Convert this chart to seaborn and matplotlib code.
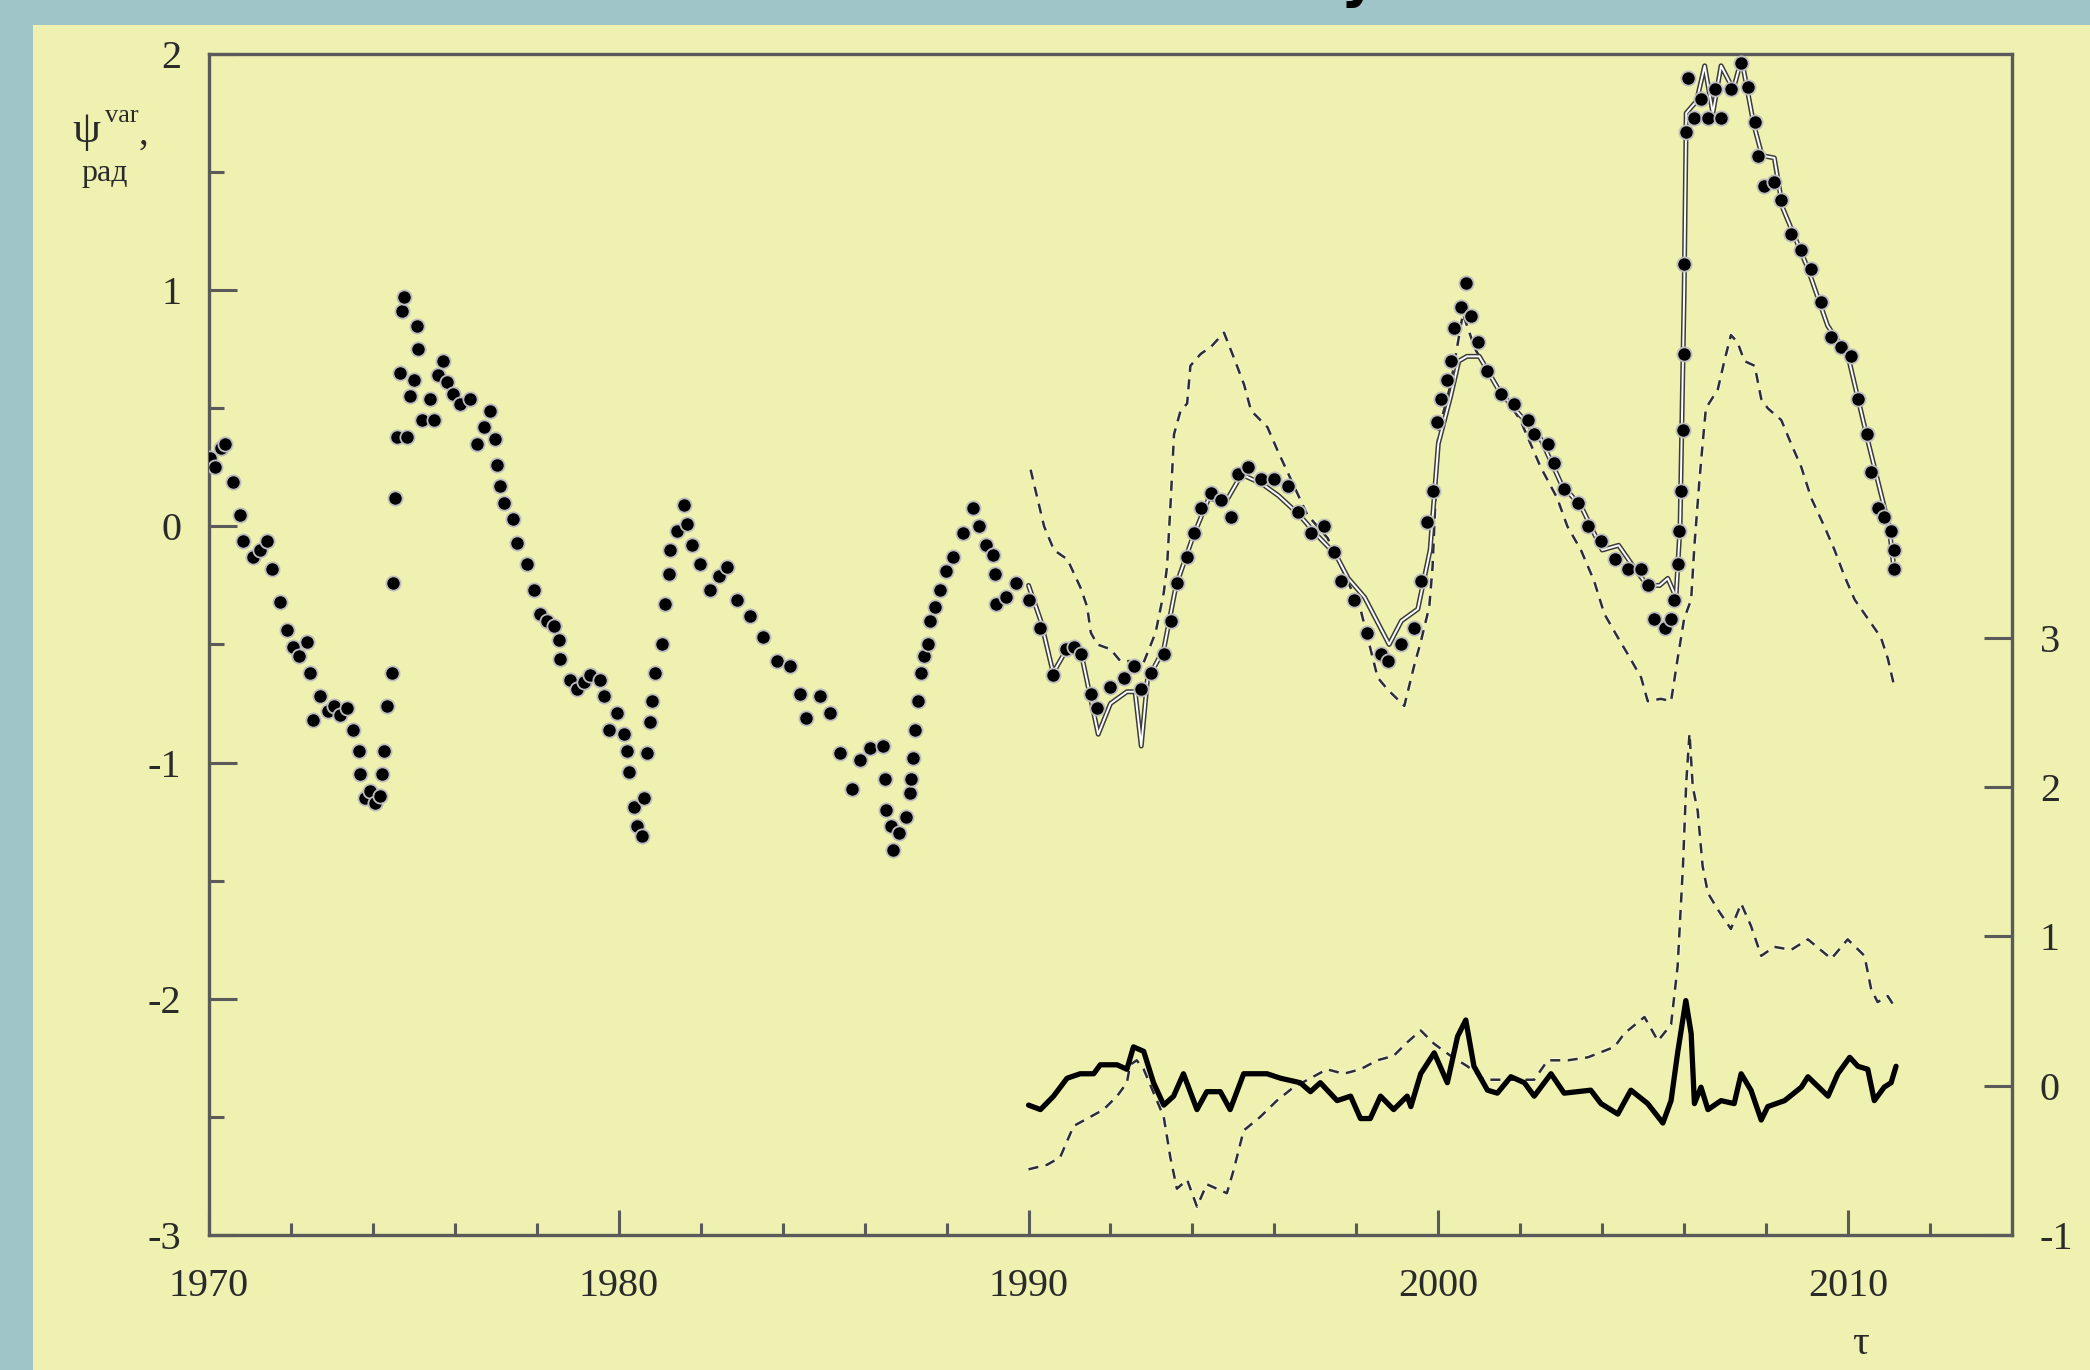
import numpy as np
import pandas as pd
import matplotlib
matplotlib.use("Agg")
import matplotlib.pyplot as plt
import matplotlib.patheffects as pe
from matplotlib.patches import Rectangle
import seaborn as sns

# --- data ----------------------------------------------------------------
# measured phase (dots), left axis
dot_years = [
    1970.02, 1970.15, 1970.3, 1970.39, 1970.59, 1970.76, 1970.84, 1971.08, 1971.25, 1971.41,
    1971.53, 1971.73, 1971.9, 1972.06, 1972.2, 1972.38, 1972.47, 1972.55, 1972.71, 1972.9,
    1973.04, 1973.2, 1973.36, 1973.52, 1973.65, 1973.69, 1973.8, 1973.93, 1974.05, 1974.18,
    1974.22, 1974.26, 1974.34, 1974.46, 1974.49, 1974.54, 1974.58, 1974.66, 1974.7, 1974.75,
    1974.83, 1974.9, 1975.0, 1975.07, 1975.11, 1975.2, 1975.39, 1975.48, 1975.6, 1975.72,
    1975.8, 1975.95, 1976.13, 1976.37, 1976.54, 1976.7, 1976.86, 1976.98, 1977.02, 1977.1,
    1977.19, 1977.43, 1977.51, 1977.76, 1977.92, 1978.08, 1978.25, 1978.41, 1978.53, 1978.57,
    1978.81, 1978.98, 1979.15, 1979.3, 1979.55, 1979.63, 1979.75, 1979.95, 1980.12, 1980.2,
    1980.24, 1980.37, 1980.45, 1980.57, 1980.61, 1980.69, 1980.77, 1980.81, 1980.89, 1981.05,
    1981.14, 1981.22, 1981.26, 1981.42, 1981.58, 1981.67, 1981.79, 1981.99, 1982.23, 1982.45,
    1982.64, 1982.88, 1983.2, 1983.53, 1983.85, 1984.17, 1984.42, 1984.58, 1984.91, 1985.15,
    1985.39, 1985.68, 1985.88, 1986.13, 1986.45, 1986.49, 1986.53, 1986.65, 1986.69, 1986.85,
    1987.02, 1987.1, 1987.14, 1987.18, 1987.22, 1987.3, 1987.38, 1987.46, 1987.54, 1987.59,
    1987.71, 1987.83, 1987.99, 1988.15, 1988.4, 1988.64, 1988.8, 1988.97, 1989.13, 1989.17,
    1989.21, 1989.46, 1989.7, 1990.02, 1990.27, 1990.6, 1990.92, 1991.1, 1991.27, 1991.52,
    1991.68, 1992.0, 1992.33, 1992.57, 1992.74, 1992.98, 1993.3, 1993.47, 1993.63, 1993.87,
    1994.04, 1994.2, 1994.45, 1994.69, 1994.94, 1995.1, 1995.35, 1995.67, 1996.0, 1996.32,
    1996.57, 1996.89, 1997.22, 1997.46, 1997.62, 1997.95, 1998.27, 1998.6, 1998.76, 1999.09,
    1999.41, 1999.57, 1999.73, 1999.86, 1999.98, 2000.06, 2000.22, 2000.3, 2000.38, 2000.55,
    2000.67, 2000.79, 2000.96, 2001.2, 2001.53, 2001.85, 2002.18, 2002.34, 2002.67, 2002.83,
    2003.07, 2003.4, 2003.65, 2003.97, 2004.3, 2004.62, 2004.95, 2005.11, 2005.27, 2005.52,
    2005.68, 2005.76, 2005.84, 2005.88, 2005.93, 2005.97, 2005.99, 2006.0, 2006.05, 2006.09,
    2006.25, 2006.41, 2006.58, 2006.74, 2006.9, 2007.15, 2007.39, 2007.55, 2007.72, 2007.8,
    2007.96, 2008.2, 2008.37, 2008.61, 2008.86, 2009.1, 2009.34, 2009.59, 2009.83, 2010.07,
    2010.24, 2010.47, 2010.56, 2010.72, 2010.88, 2011.05, 2011.13, 2011.13,
]
dot_psi = [
    0.29, 0.25, 0.33, 0.35, 0.19, 0.05, -0.06, -0.13, -0.10, -0.06,
    -0.18, -0.32, -0.44, -0.51, -0.55, -0.49, -0.62, -0.82, -0.72, -0.78,
    -0.76, -0.80, -0.77, -0.86, -0.95, -1.05, -1.15, -1.12, -1.17, -1.14,
    -1.05, -0.95, -0.76, -0.62, -0.24, 0.12, 0.38, 0.65, 0.91, 0.97,
    0.38, 0.55, 0.62, 0.85, 0.75, 0.45, 0.54, 0.45, 0.64, 0.70,
    0.61, 0.56, 0.52, 0.54, 0.35, 0.42, 0.49, 0.37, 0.26, 0.17,
    0.10, 0.03, -0.07, -0.16, -0.27, -0.37, -0.40, -0.42, -0.48, -0.56,
    -0.65, -0.69, -0.66, -0.63, -0.65, -0.72, -0.86, -0.79, -0.88, -0.95,
    -1.04, -1.19, -1.27, -1.31, -1.15, -0.96, -0.83, -0.74, -0.62, -0.50,
    -0.33, -0.20, -0.10, -0.02, 0.09, 0.01, -0.08, -0.16, -0.27, -0.21,
    -0.17, -0.31, -0.38, -0.47, -0.57, -0.59, -0.71, -0.81, -0.72, -0.79,
    -0.96, -1.11, -0.99, -0.94, -0.93, -1.07, -1.20, -1.27, -1.37, -1.30,
    -1.23, -1.13, -1.07, -0.98, -0.86, -0.74, -0.62, -0.55, -0.50, -0.40,
    -0.34, -0.27, -0.19, -0.13, -0.03, 0.08, 0.00, -0.08, -0.12, -0.20,
    -0.33, -0.30, -0.24, -0.31, -0.43, -0.63, -0.52, -0.51, -0.54, -0.71,
    -0.77, -0.68, -0.64, -0.59, -0.69, -0.62, -0.54, -0.40, -0.24, -0.13,
    -0.03, 0.08, 0.14, 0.11, 0.04, 0.22, 0.25, 0.20, 0.20, 0.17,
    0.06, -0.03, 0.00, -0.11, -0.23, -0.31, -0.45, -0.54, -0.57, -0.50,
    -0.43, -0.23, 0.02, 0.15, 0.44, 0.54, 0.62, 0.70, 0.84, 0.93,
    1.03, 0.89, 0.78, 0.66, 0.56, 0.52, 0.45, 0.39, 0.35, 0.27,
    0.16, 0.10, 0.00, -0.06, -0.14, -0.18, -0.18, -0.25, -0.39, -0.43,
    -0.39, -0.31, -0.16, -0.02, 0.15, 0.41, 0.73, 1.11, 1.67, 1.90,
    1.73, 1.81, 1.73, 1.85, 1.73, 1.85, 1.96, 1.86, 1.71, 1.57,
    1.44, 1.46, 1.38, 1.24, 1.17, 1.09, 0.95, 0.80, 0.76, 0.72,
    0.54, 0.39, 0.23, 0.08, 0.04, -0.02, -0.10, -0.18,
]

# model curve (thin solid), left axis
thin_years = [
    1990.0, 1990.3, 1990.6, 1991.0, 1991.3, 1991.7, 1992.0, 1992.4, 1992.6, 1992.75,
    1992.9, 1993.3, 1993.6, 1994.0, 1994.4, 1994.8, 1995.2, 1995.7, 1996.1, 1996.6,
    1997.0, 1997.5, 1997.8, 1998.2, 1998.5, 1998.8, 1999.1, 1999.5, 1999.8, 2000.0,
    2000.3, 2000.5, 2000.7, 2001.0, 2001.5, 2002.0, 2002.5, 2003.0, 2003.5, 2004.0,
    2004.4, 2004.8, 2005.1, 2005.4, 2005.6, 2005.8, 2005.9, 2006.0, 2006.05, 2006.3,
    2006.5, 2006.7, 2006.9, 2007.2, 2007.4, 2007.7, 2007.9, 2008.2, 2008.4, 2009.0,
    2009.5, 2010.0, 2010.5, 2011.0, 2011.1,
]
thin_psi = [
    -0.25, -0.40, -0.62, -0.50, -0.55, -0.88, -0.75, -0.70, -0.70, -0.93,
    -0.65, -0.52, -0.25, -0.05, 0.12, 0.10, 0.22, 0.18, 0.13, 0.05,
    -0.03, -0.12, -0.22, -0.30, -0.40, -0.50, -0.40, -0.35, -0.10, 0.35,
    0.55, 0.70, 0.72, 0.72, 0.57, 0.47, 0.37, 0.18, 0.08, -0.10,
    -0.08, -0.18, -0.25, -0.25, -0.22, -0.30, 0.00, 1.00, 1.75, 1.80,
    1.95, 1.75, 1.95, 1.85, 1.98, 1.70, 1.57, 1.56, 1.35, 1.10,
    0.85, 0.72, 0.35, 0.00, -0.15,
]

# forecast (dashed), left axis
fc_years = [
    1990.05, 1990.38, 1990.62, 1990.95, 1991.27, 1991.43, 1991.52, 1991.68, 1992.0, 1992.24,
    1992.49, 1992.8, 1993.1, 1993.3, 1993.38, 1993.47, 1993.55, 1993.71, 1993.87, 1993.95,
    1994.2, 1994.45, 1994.77, 1995.02, 1995.26, 1995.43, 1995.83, 1996.08, 1996.32, 1996.8,
    1997.3, 1997.7, 1998.1, 1998.52, 1998.76, 1999.17, 1999.41, 1999.57, 1999.78, 1999.86,
    2000.0, 2000.3, 2000.6, 2000.9, 2001.5, 2002.0, 2002.5, 2002.9, 2003.15, 2003.48,
    2003.8, 2004.05, 2004.38, 2004.62, 2004.95, 2005.11, 2005.43, 2005.68, 2005.84, 2006.0,
    2006.17, 2006.25, 2006.37, 2006.45, 2006.53, 2006.82, 2006.98, 2007.14, 2007.3, 2007.47,
    2007.72, 2007.88, 2008.04, 2008.37, 2008.61, 2008.86, 2009.1, 2009.42, 2009.67, 2009.91,
    2010.16, 2010.48, 2010.8, 2010.97, 2011.13,
]
fc_psi = [
    0.24, 0.00, -0.10, -0.14, -0.26, -0.34, -0.45, -0.50, -0.52, -0.57,
    -0.57, -0.58, -0.45, -0.28, -0.17, 0.11, 0.39, 0.49, 0.52, 0.68,
    0.73, 0.76, 0.82, 0.71, 0.60, 0.49, 0.42, 0.32, 0.23, 0.05,
    -0.05, -0.20, -0.35, -0.64, -0.69, -0.76, -0.59, -0.49, -0.34, -0.17,
    0.40, 0.60, 0.90, 0.75, 0.58, 0.45, 0.25, 0.12, 0.00, -0.10,
    -0.23, -0.37, -0.47, -0.54, -0.64, -0.74, -0.73, -0.74, -0.56, -0.39,
    -0.31, -0.08, 0.19, 0.35, 0.50, 0.58, 0.70, 0.81, 0.78, 0.70,
    0.68, 0.54, 0.50, 0.45, 0.35, 0.25, 0.12, 0.00, -0.10, -0.21,
    -0.31, -0.39, -0.47, -0.56, -0.68,
]

# residuals, right axis
res_years = [
    1990.0, 1990.29, 1990.61, 1990.94, 1991.26, 1991.59, 1991.75, 1992.16, 1992.4, 1992.56,
    1992.81, 1993.05, 1993.3, 1993.54, 1993.78, 1994.11, 1994.35, 1994.68, 1994.92, 1995.25,
    1995.82, 1996.15, 1996.63, 1996.88, 1997.12, 1997.53, 1997.86, 1998.1, 1998.34, 1998.59,
    1998.91, 1999.24, 1999.33, 1999.57, 1999.9, 2000.22, 2000.47, 2000.67, 2000.87, 2001.2,
    2001.44, 2001.77, 2002.1, 2002.34, 2002.75, 2003.07, 2003.72, 2003.97, 2004.38, 2004.7,
    2005.11, 2005.48, 2005.68, 2005.84, 2006.04, 2006.17, 2006.25, 2006.41, 2006.58, 2006.9,
    2007.22, 2007.39, 2007.63, 2007.88, 2008.04, 2008.45, 2008.86, 2009.02, 2009.51, 2009.75,
    2010.04, 2010.24, 2010.48, 2010.64, 2010.88, 2011.05, 2011.17,
]
res_val = [
    -0.13, -0.16, -0.07, 0.05, 0.08, 0.08, 0.14, 0.14, 0.11, 0.26,
    0.23, 0.02, -0.13, -0.07, 0.08, -0.16, -0.04, -0.04, -0.16, 0.08,
    0.08, 0.05, 0.02, -0.04, 0.02, -0.10, -0.07, -0.22, -0.22, -0.07,
    -0.16, -0.07, -0.14, 0.08, 0.22, 0.02, 0.33, 0.44, 0.13, -0.03,
    -0.05, 0.06, 0.02, -0.07, 0.08, -0.05, -0.03, -0.12, -0.19, -0.03,
    -0.12, -0.25, -0.10, 0.22, 0.57, 0.35, -0.12, -0.01, -0.16, -0.10,
    -0.12, 0.08, -0.03, -0.23, -0.14, -0.10, -0.01, 0.06, -0.07, 0.08,
    0.19, 0.13, 0.11, -0.10, -0.01, 0.02, 0.13,
]

# forecast error (dashed), right axis
err_years = [
    1990.0, 1990.45, 1990.77, 1991.1, 1991.5, 1991.83, 1992.16, 1992.4, 1992.48, 1992.64,
    1992.81, 1993.3, 1993.46, 1993.62, 1993.87, 1994.11, 1994.35, 1994.84, 1995.0, 1995.25,
    1995.65, 1996.06, 1996.47, 1996.88, 1997.28, 1997.69, 1998.1, 1998.51, 1998.91, 1999.24,
    1999.57, 1999.9, 2000.3, 2000.71, 2001.12, 2001.53, 2002.34, 2002.67, 2003.16, 2003.65,
    2004.3, 2004.54, 2005.03, 2005.36, 2005.68, 2005.84, 2005.97, 2006.05, 2006.13, 2006.21,
    2006.33, 2006.45, 2006.58, 2006.82, 2007.14, 2007.39, 2007.63, 2007.88, 2008.2, 2008.61,
    2009.02, 2009.59, 2009.99, 2010.4, 2010.56, 2010.72, 2010.97, 2011.13,
]
err_val = [
    -0.56, -0.53, -0.48, -0.27, -0.21, -0.16, -0.07, 0.02, 0.14, 0.17,
    0.11, -0.21, -0.48, -0.69, -0.63, -0.81, -0.66, -0.72, -0.57, -0.30,
    -0.21, -0.10, -0.01, 0.05, 0.11, 0.08, 0.11, 0.17, 0.20, 0.29,
    0.37, 0.28, 0.20, 0.13, 0.04, 0.04, 0.04, 0.17, 0.17, 0.19,
    0.26, 0.35, 0.46, 0.30, 0.41, 0.80, 1.47, 2.03, 2.36, 2.00,
    1.84, 1.47, 1.29, 1.18, 1.05, 1.22, 1.07, 0.87, 0.93, 0.91,
    0.98, 0.85, 0.98, 0.87, 0.65, 0.56, 0.60, 0.53,
]

left_ticks = [-3, -2, -1, 0, 1, 2]
right_ticks = [-1, 0, 1, 2, 3]
year_ticks = [1970, 1980, 1990, 2000, 2010]

# --- style ---------------------------------------------------------------
TEAL = '#a0c5c9'
YELLOW = '#eff1b1'
AXC = '#5a5a5a'
TXT = '#2a2a2a'

sns.set_style('ticks')
plt.rcParams['font.family'] = ['Liberation Serif', 'DejaVu Serif']
plt.rcParams['axes.unicode_minus'] = False

W, H = 2090, 1370
fig = plt.figure(figsize=(W / 100, H / 100), dpi=100, facecolor=TEAL)
fig.patches.append(Rectangle((33 / W, 0), 1, 1 - 25 / H, transform=fig.transFigure,
                             facecolor=YELLOW, edgecolor='none', zorder=-10))

ax = fig.add_axes([209 / W, 1 - 1235 / H, (2012 - 209) / W, (1235 - 54) / H])
ax.set_facecolor(YELLOW)
ax2 = ax.twinx()

# thin model curve: white core with a dark rim, like the scan
rim = [pe.Stroke(linewidth=3.6, foreground='#3c3c3c'), pe.Normal()]
dash_halo = [pe.Stroke(linewidth=3.2, foreground='#f7f7ee'), pe.Normal()]

dots = pd.DataFrame({'year': dot_years, 'psi': dot_psi})
thin = pd.DataFrame({'year': thin_years, 'psi': thin_psi})
fc = pd.DataFrame({'year': fc_years, 'psi': fc_psi})
res = pd.DataFrame({'year': res_years, 'val': res_val})
err = pd.DataFrame({'year': err_years, 'val': err_val})

sns.lineplot(data=fc, x='year', y='psi', ax=ax, sort=False, estimator=None,
             color='#2e2e2e', linewidth=1.8, linestyle=(0, (4, 3)),
             path_effects=dash_halo, zorder=2)
sns.lineplot(data=thin, x='year', y='psi', ax=ax, sort=False, estimator=None,
             color='white', linewidth=1.4, path_effects=rim, zorder=3)
sns.scatterplot(data=dots, x='year', y='psi', ax=ax, s=105, color='black',
                edgecolor='#bdbdbd', linewidth=1.3, zorder=4)

sns.lineplot(data=err, x='year', y='val', ax=ax2, sort=False, estimator=None,
             color='#2e2e2e', linewidth=1.8, linestyle=(0, (4, 3)),
             path_effects=dash_halo, zorder=2)
sns.lineplot(data=res, x='year', y='val', ax=ax2, sort=False, estimator=None,
             color='black', linewidth=3.8, zorder=3)

# --- axes ----------------------------------------------------------------
ax.set_xlim(1970, 2014)
ax.set_ylim(-3, 2)
ax2.set_ylim(-1, 6.91)

ax.set_xticks(year_ticks)
ax.set_xticks(np.arange(1972, 2014, 2), minor=True)
ax.set_xticklabels([str(y) for y in year_ticks])
ax.set_yticks(left_ticks)
ax.set_yticks(np.arange(-2.5, 2, 1.0), minor=True)
ax.set_yticklabels([str(t) for t in left_ticks])
ax2.set_yticks(right_ticks)
ax2.set_yticklabels([str(t) for t in right_ticks])
ax2.set_yticks([], minor=True)

ax.set_xlabel('')
ax.set_ylabel('')
ax2.set_ylabel('')

ax.tick_params(axis='x', which='major', direction='in', length=18, width=2.2,
               color=AXC, labelsize=29, labelcolor=TXT, pad=24, top=False)
ax.tick_params(axis='x', which='minor', direction='in', length=9, width=2.2,
               color=AXC, top=False)
ax.tick_params(axis='y', which='major', direction='in', length=20, width=2.2,
               color=AXC, labelsize=29, labelcolor=TXT, pad=20, right=False)
ax.tick_params(axis='y', which='minor', direction='in', length=11, width=2.2,
               color=AXC, right=False)
ax2.tick_params(axis='y', which='major', direction='in', length=20, width=2.2,
                color=AXC, labelsize=29, labelcolor=TXT, pad=20)

for s in ['left', 'bottom', 'top']:
    ax.spines[s].set_visible(True)
    ax.spines[s].set_color(AXC)
    ax.spines[s].set_linewidth(2.4)
ax.spines['right'].set_visible(False)
for s in ['left', 'bottom', 'top']:
    ax2.spines[s].set_visible(False)
ax2.spines['right'].set_visible(True)
ax2.spines['right'].set_color(AXC)
ax2.spines['right'].set_linewidth(2.4)

# --- labels --------------------------------------------------------------
fig.text(86 / W, 1 - 131 / H, 'ψ', fontsize=32, color=TXT, ha='center', va='center')
fig.text(122 / W, 1 - 116 / H, 'var', fontsize=19, color=TXT, ha='center', va='center')
fig.text(143 / W, 1 - 134 / H, ',', fontsize=28, color=TXT, ha='center', va='center')
fig.text(105 / W, 1 - 174 / H, 'рад', fontsize=23, color=TXT, ha='center', va='center')
fig.text(1860 / W, 1 - 1344 / H, 'τ', fontsize=30, color=TXT, ha='center', va='center')
# only the tail of the slide heading shows below the top edge
fig.text(1358 / W, 1 + 4 / H, 'у', fontsize=40, fontweight='bold', color='black',
         family=['DejaVu Sans'], ha='center', va='baseline')

fig.savefig('out.png', dpi=100, facecolor=TEAL)
